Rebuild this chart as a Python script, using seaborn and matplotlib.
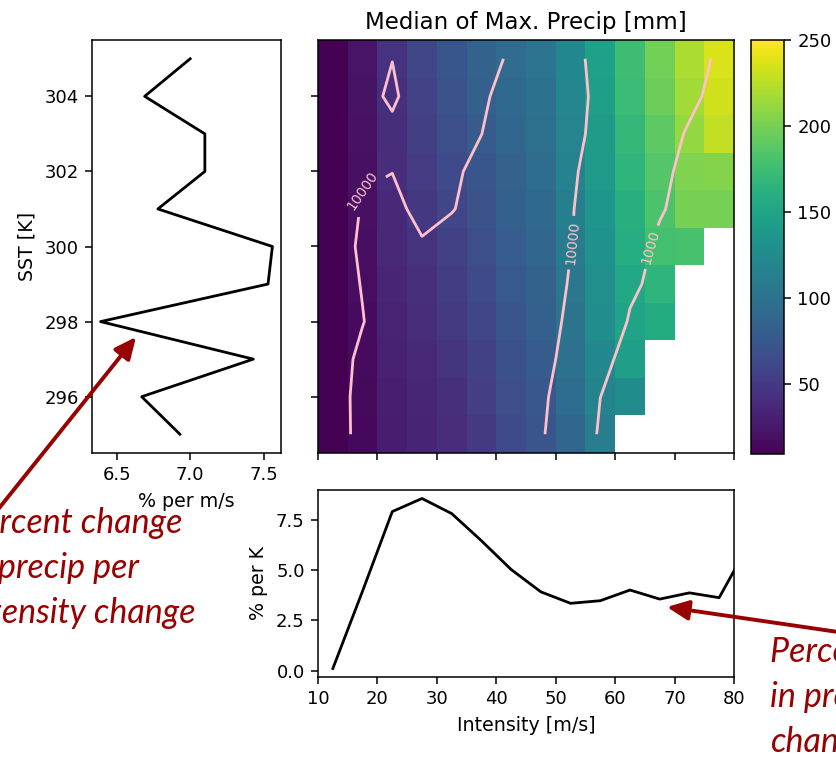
import numpy as np
import pandas as pd
import matplotlib
matplotlib.use("Agg")
import matplotlib.pyplot as plt
from matplotlib.patches import FancyArrowPatch
import seaborn as sns

# ---------------- data ----------------
nan = np.nan
sst_rows = [305, 304, 303, 302, 301, 300, 299, 298, 297, 296, 295]
intensity_bins = [12.5, 17.5, 22.5, 27.5, 32.5, 37.5, 42.5,
                  47.5, 52.5, 57.5, 62.5, 67.5, 72.5, 77.5]

# median of max precip [mm], one list per SST row (305 -> 295)
precip_rows = [
    [10.2, 22.0, 44.0, 60.0, 74.0, 84.0, 93.0, 103.0, 122.0, 146.0, 175.0, 199.0, 219.0, 236.0],
    [10.0, 21.5, 43.0, 57.0, 71.0, 81.0, 91.0, 100.0, 120.0, 144.0, 173.0, 196.0, 217.0, 233.0],
    [10.1, 20.5, 41.0, 54.0, 67.0, 77.0, 88.0, 97.0, 118.0, 141.0, 170.0, 190.0, 211.0, 228.0],
    [9.9, 19.5, 39.5, 51.0, 63.0, 74.0, 85.0, 94.0, 115.0, 139.0, 166.0, 186.0, 203.0, 205.0],
    [10.0, 19.0, 37.5, 48.0, 60.0, 70.0, 82.0, 91.0, 112.0, 136.0, 161.0, 182.0, 200.0, 200.0],
    [9.8, 18.0, 36.0, 45.0, 56.0, 67.0, 79.0, 88.0, 109.0, 132.0, 158.0, 178.0, 180.0, nan],
    [9.9, 17.5, 34.0, 42.0, 52.0, 63.0, 76.0, 85.0, 105.0, 129.0, 154.0, 166.0, nan, nan],
    [9.7, 16.5, 32.5, 40.0, 49.0, 60.0, 72.0, 82.0, 101.0, 126.0, 149.0, 156.0, nan, nan],
    [9.6, 16.0, 31.0, 37.5, 46.0, 56.0, 69.0, 78.0, 98.0, 122.0, 144.0, nan, nan, nan],
    [9.5, 15.0, 29.5, 35.0, 43.0, 53.0, 66.0, 75.0, 94.0, 117.0, 125.0, nan, nan, nan],
    [9.3, 14.5, 28.0, 33.0, 40.0, 50.0, 63.0, 72.0, 89.0, 110.0, nan, nan, nan, nan],
]

# sample counts per cell (contoured), one list per SST row (305 -> 295)
count_rows = [
    [6000, 8000, 9910, 8500, 8800, 9000, 10350, 14000, 13000, 6880, 4000, 2500, 1500, 810],
    [6000, 7880, 11000, 6450, 7500, 9000, 12450, 16000, 15000, 6670, 4000, 2500, 1500, 310],
    [6000, 7500, 8500, 7000, 8000, 9950, 13000, 17000, 15000, 5000, 3500, 2000, 750, 400],
    [6000, 9550, 9800, 7500, 9000, 11560, 16000, 19000, 11000, 7150, 4000, 1500, 410, 200],
    [6000, 10450, 13800, 6000, 9000, 17330, 20000, 20000, 11000, 2670, 2000, 1200, 200, 100],
    [6000, 11330, 16000, 11480, 18090, 20000, 22000, 20000, 10300, 4300, 2000, 570, 300, 100],
    [6000, 10400, 15000, 20000, 22000, 24000, 24000, 20000, 8640, 3000, 1400, 400, 100, 50],
    [6000, 9700, 14700, 20000, 24000, 26000, 25000, 16000, 7430, 3000, 780, 400, 100, 50],
    [6000, 11900, 18000, 22000, 25000, 26000, 24000, 14000, 6000, 1500, 410, 200, 100, 50],
    [6000, 12900, 20000, 24000, 26000, 25000, 22000, 12000, 4300, 1010, 300, 150, 80, 40],
    [6000, 12700, 20000, 25000, 27000, 26000, 22000, 11000, 3860, 610, 200, 100, 50, 20],
]
contour_levels = [1000, 10000]

# left panel: % per m/s vs SST
sst_line = [295, 296, 297, 298, 299, 300, 301, 302, 303, 304, 305]
pct_per_ms = [6.93, 6.67, 7.43, 6.39, 7.53, 7.56, 6.78, 7.10, 7.10, 6.69, 7.00]

# bottom panel: % per K vs intensity
intensity_line = [12.5, 17.5, 22.5, 27.5, 32.5, 37.5, 42.5, 47.5,
                  52.5, 57.5, 62.5, 67.5, 72.5, 77.5, 82.5]
pct_per_K = [0.1, 3.95, 7.9, 8.55, 7.8, 6.45, 5.02, 3.91,
             3.34, 3.47, 4.0, 3.55, 3.86, 3.62, 6.28]

left_note = ["Percent change", "in precip per", "intensity change"]
right_note = ["Percent change", "in precip per SST", "change"]

# ---------------- layout / style ----------------
W, H = 837, 757
BIN_LO, BIN_W = 10.0, 5.0
label_spots = [(17.3, 301.5), (52.6, 300.1), (65.6, 300.0)]  # (intensity, SST)
RED = "#990000"

plt.rcParams.update({
    "xtick.labelsize": 13, "ytick.labelsize": 13,
    "axes.labelsize": 13.7, "axes.titlesize": 16.5,
    "xtick.major.size": 4.8, "ytick.major.size": 4.8,
    "xtick.major.pad": 4.8, "ytick.major.pad": 4.8,
    "xtick.major.width": 1.1, "ytick.major.width": 1.1,
    "axes.linewidth": 1.1, "axes.labelpad": 5.5,
    "lines.linewidth": 2.0,
})


def fx(px):
    return px / W


def fy(py):
    return 1 - py / H


def hx(v):
    return (np.asarray(v, float) - BIN_LO) / BIN_W


def hy(s):
    return sst_rows[0] + 0.5 - np.asarray(s, float)


fig = plt.figure(figsize=(W / 100, H / 100), dpi=100)
ax_left = fig.add_axes([fx(92), fy(453), fx(281) - fx(92), (453 - 40) / H])
ax_hm = fig.add_axes([fx(318), fy(453), fx(734) - fx(318), (453 - 40) / H])
cax = fig.add_axes([fx(751), fy(454), fx(784) - fx(751), (454 - 40) / H])
ax_bot = fig.add_axes([fx(318), fy(677), fx(734) - fx(318), (677 - 490) / H])

# heatmap
df = pd.DataFrame(precip_rows, index=sst_rows, columns=intensity_bins)
sns.heatmap(df, ax=ax_hm, cmap="viridis", vmax=250, cbar=True, cbar_ax=cax,
            xticklabels=False, yticklabels=False)
for sp in ax_hm.spines.values():
    sp.set_visible(True)
    sp.set_linewidth(1.1)
ax_hm.set_xlabel("")
ax_hm.set_ylabel("")
ax_hm.set_xticks(hx(np.arange(10, 81, 10)))
ax_hm.set_xticklabels([])
ax_hm.set_yticks(hy(np.arange(296, 305, 2)))
ax_hm.set_yticklabels([])
ax_hm.set_title("Median of Max. Precip [mm]", pad=8)

cb = ax_hm.collections[0].colorbar
cb.outline.set_visible(True)
cb.outline.set_linewidth(1.1)
cb.set_ticks([50, 100, 150, 200, 250])
cb.ax.tick_params(labelsize=13, length=4.8, width=1.1, pad=4.8)

# count contours
counts = np.array(count_rows, float)
XX, YY = np.meshgrid(hx(intensity_bins), hy(sst_rows))
cs = ax_hm.contour(XX, YY, counts, levels=contour_levels, colors="pink",
                   linewidths=2.0)
ax_hm.clabel(cs, inline=True, fmt="%d", fontsize=10,
             manual=[(float(hx(a)), float(hy(b))) for a, b in label_spots])

# left panel
sns.lineplot(x=pct_per_ms, y=sst_line, orient="y", color="black",
             linewidth=2.0, ax=ax_left)
ax_left.set_xlabel("% per m/s")
ax_left.set_ylabel("SST [K]")
ax_left.set_yticks([296, 298, 300, 302, 304])
ax_left.set_xticks([6.5, 7.0, 7.5])

# bottom panel
sns.lineplot(x=intensity_line, y=pct_per_K, color="black", linewidth=2.0,
             ax=ax_bot)
ax_bot.set_xlim(10, 80)
ax_bot.set_xticks(np.arange(10, 81, 10))
ax_bot.set_yticks([0.0, 2.5, 5.0, 7.5])
ax_bot.set_yticklabels(["0.0", "2.5", "5.0", "7.5"])
ax_bot.set_xlabel("Intensity [m/s]")
ax_bot.set_ylabel("% per K")

# annotations
for i, line in enumerate(left_note):
    fig.text(fx(-36), fy(533 + 45 * i), line, color=RED, fontsize=24.5,
             style="italic", family="Lato", va="baseline", ha="left")
for i, line in enumerate(right_note):
    fig.text(fx(770), fy(662 + 45 * i), line, color=RED, fontsize=24.5,
             style="italic", family="Lato", va="baseline", ha="left")

arrow_kw = dict(transform=fig.transFigure, color=RED, lw=2.8,
                arrowstyle="-|>,head_length=0.65,head_width=0.3",
                mutation_scale=20, shrinkA=0, shrinkB=0)
fig.add_artist(FancyArrowPatch((fx(-4), fy(512)), (fx(136), fy(337)), **arrow_kw))
fig.add_artist(FancyArrowPatch((fx(845), fy(633)), (fx(667), fy(607)), **arrow_kw))

fig.savefig("out.png", dpi=100)
